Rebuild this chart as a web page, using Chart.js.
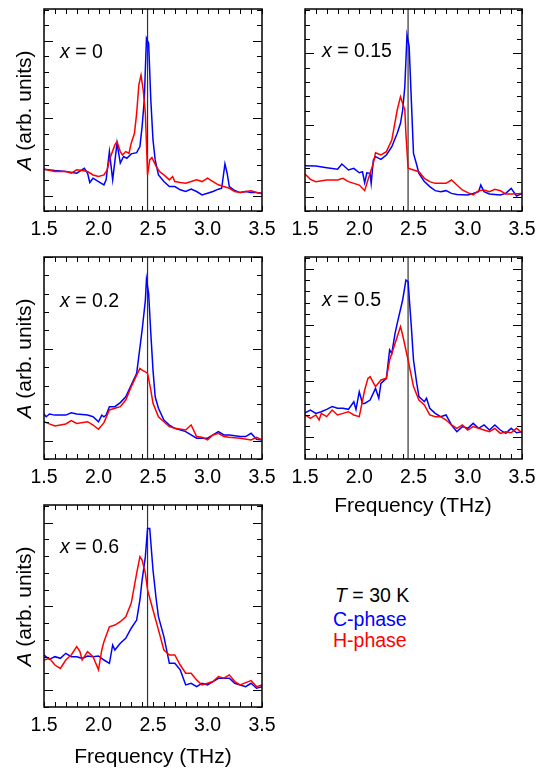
<!DOCTYPE html>
<html><head><meta charset="utf-8">
<script src="https://cdn.jsdelivr.net/npm/chart.js@4.4.1/dist/chart.umd.min.js"></script>
<style>
html,body{margin:0;padding:0;background:#fff;}
body{width:544px;height:770px;position:relative;overflow:hidden;font-family:"Liberation Sans",Arial,Helvetica,sans-serif;color:#000;}
canvas{position:absolute;}
.lbl{position:absolute;font-size:19.5px;line-height:1;white-space:nowrap;}
.yt{position:absolute;font-size:21px;line-height:21px;height:21px;width:180px;text-align:center;white-space:nowrap;transform:rotate(-90deg);transform-origin:50% 50%;}
.xt{position:absolute;font-size:21px;line-height:1;width:220px;text-align:center;white-space:nowrap;}
</style>
</head><body>

<canvas id="p1" width="278" height="252" style="left:14px;top:-1px"></canvas>
<canvas id="p2" width="277" height="252" style="left:275px;top:-1px"></canvas>
<canvas id="p3" width="278" height="252" style="left:14px;top:247px"></canvas>
<canvas id="p4" width="277" height="252" style="left:275px;top:247px"></canvas>
<canvas id="p5" width="278" height="252" style="left:14px;top:495px"></canvas>

<div class="lbl" style="left:60px;top:41.5px"><i>x</i> = 0</div>
<div class="lbl" style="left:322px;top:40.5px"><i>x</i> = 0.15</div>
<div class="lbl" style="left:60px;top:290.5px"><i>x</i> = 0.2</div>
<div class="lbl" style="left:322px;top:289.5px"><i>x</i> = 0.5</div>
<div class="lbl" style="left:60px;top:536.5px"><i>x</i> = 0.6</div>

<div class="yt" style="left:-67px;top:99.5px"><i>A</i> (arb. units)</div>
<div class="yt" style="left:-67px;top:347.5px"><i>A</i> (arb. units)</div>
<div class="yt" style="left:-67px;top:595.5px"><i>A</i> (arb. units)</div>

<div class="xt" style="left:303px;top:494px">Frequency (THz)</div>
<div class="xt" style="left:43px;top:745px">Frequency (THz)</div>

<div class="lbl" style="left:335px;top:585.5px"><i>T</i> = 30 K</div>
<div class="lbl" style="left:333px;top:609.5px;color:#0000ff">C-phase</div>
<div class="lbl" style="left:333px;top:630.5px;color:#ff0000">H-phase</div>

<script>
// ---- data (frequency in THz, amplitude in arb. units) ----
const markerFreq = 2.45;
const xTickLabels = ['1.5', '2.0', '2.5', '3.0', '3.5'];

// x = 0
const freqX0C = [1.5,1.6,1.7,1.8,1.87,1.9,1.92,1.95,2.0,2.05,2.07,2.1,2.13,2.17,2.2,2.23,2.26,2.3,2.35,2.38,2.4,2.42,2.44,2.46,2.48,2.5,2.52,2.55,2.6,2.65,2.7,2.75,2.8,2.85,2.9,2.95,3.0,3.05,3.1,3.13,3.16,3.18,3.2,3.25,3.3,3.35,3.4,3.45,3.5];
const ampX0C  = [1.70,1.61,1.55,1.44,1.76,1.44,0.84,1.12,0.90,0.69,1.01,2.84,1.01,3.38,2.09,2.52,2.41,2.69,2.77,3.16,4.45,6.17,10.15,9.83,6.17,3.59,2.30,1.33,0.90,0.58,0.58,0.37,0.26,0.41,0.26,0.04,0.15,0.26,0.41,0.47,2.04,1.44,0.58,0.32,0.19,0.26,0.19,0.19,0.15];
const freqX0H = [1.5,1.6,1.7,1.75,1.8,1.85,1.9,1.95,2.0,2.05,2.08,2.1,2.15,2.17,2.2,2.22,2.25,2.28,2.3,2.33,2.35,2.37,2.39,2.41,2.43,2.44,2.45,2.47,2.49,2.5,2.53,2.56,2.6,2.65,2.68,2.7,2.75,2.8,2.85,2.9,2.95,3.0,3.05,3.1,3.15,3.2,3.25,3.3,3.35,3.4,3.45,3.5];
const ampX0H  = [1.70,1.55,1.55,1.44,1.66,1.61,1.55,1.33,1.23,1.33,1.66,2.30,3.27,3.48,2.84,2.62,2.84,2.73,3.38,4.02,5.31,7.14,7.78,6.82,5.31,3.38,1.33,2.30,2.45,2.30,1.87,1.55,1.33,1.01,1.23,0.90,0.84,0.80,0.90,1.01,0.90,1.12,0.90,0.69,0.58,0.47,0.26,0.19,0.26,0.30,0.19,0.11];

// x = 0.15
const freqX15C = [1.5,1.6,1.7,1.8,1.84,1.9,1.95,2.0,2.03,2.05,2.07,2.1,2.11,2.13,2.15,2.2,2.25,2.3,2.35,2.38,2.4,2.42,2.44,2.46,2.48,2.5,2.53,2.55,2.6,2.65,2.7,2.75,2.8,2.85,2.9,3.0,3.05,3.1,3.12,3.15,3.2,3.3,3.35,3.4,3.45,3.5];
const ampX15C  = [2.16,2.14,2.02,1.91,2.28,1.86,1.98,1.67,1.74,0.98,1.67,1.63,0.93,2.56,2.79,2.60,2.91,3.49,4.42,5.12,6.05,7.67,11.28,10.47,6.74,3.02,2.21,1.63,1.05,0.70,0.42,0.35,0.42,0.23,0.16,0.12,0.23,0.35,0.81,0.35,0.19,0.12,0.23,0.58,0.05,0.23];
const freqX15H = [1.5,1.55,1.6,1.7,1.8,1.85,1.9,2.0,2.05,2.08,2.1,2.13,2.15,2.2,2.25,2.3,2.35,2.38,2.4,2.42,2.43,2.45,2.5,2.55,2.6,2.65,2.7,2.75,2.8,2.85,2.9,2.95,3.0,3.05,3.1,3.15,3.2,3.25,3.3,3.35,3.4,3.5];
const ampX15H  = [1.58,1.21,1.05,1.16,1.16,1.28,1.05,0.81,0.42,1.16,1.63,2.33,3.07,2.91,3.14,3.95,6.05,6.98,6.51,6.05,4.42,1.98,1.86,1.74,1.28,1.05,0.93,0.93,0.93,1.16,0.81,0.47,0.28,0.12,0.42,0.47,0.35,0.51,0.42,0.19,0.19,0.23];

// x = 0.2
const freqX2C = [1.5,1.52,1.55,1.6,1.7,1.75,1.8,1.9,1.95,2.0,2.03,2.05,2.07,2.1,2.15,2.2,2.25,2.3,2.35,2.4,2.43,2.44,2.46,2.48,2.5,2.52,2.55,2.6,2.65,2.7,2.8,2.9,2.95,3.0,3.05,3.1,3.15,3.2,3.3,3.35,3.4,3.45,3.5];
const ampX2C  = [1.45,1.30,1.45,1.39,1.39,1.52,1.45,1.39,1.30,1.03,1.39,1.30,1.39,1.85,1.85,2.07,2.39,3.03,3.66,6.01,7.64,8.77,8.01,5.83,3.84,2.39,1.76,1.12,0.85,0.67,0.49,0.13,0.13,0.13,0.31,0.49,0.31,0.31,0.22,0.22,0.40,0.07,0.04];
const freqX2H = [1.5,1.55,1.6,1.7,1.75,1.8,1.9,1.95,2.0,2.05,2.1,2.15,2.2,2.25,2.3,2.35,2.38,2.4,2.43,2.45,2.48,2.5,2.55,2.6,2.65,2.7,2.8,2.85,2.9,2.95,3.0,3.05,3.1,3.15,3.2,3.3,3.4,3.45,3.5];
const ampX2H  = [1.03,0.91,0.80,0.91,1.09,0.94,1.03,0.85,0.62,0.98,1.67,1.76,1.85,2.21,2.93,3.57,3.93,3.84,3.75,3.66,2.75,2.03,1.30,1.03,0.76,0.67,0.58,0.85,0.22,0.18,0.04,0.31,0.40,0.22,0.18,0.13,0.04,0.18,0.04];

// x = 0.5
const freqX5C = [1.5,1.55,1.6,1.65,1.7,1.75,1.8,1.85,1.9,1.95,1.97,2.0,2.03,2.05,2.1,2.15,2.18,2.2,2.25,2.28,2.3,2.33,2.35,2.4,2.43,2.45,2.48,2.5,2.53,2.55,2.6,2.62,2.65,2.7,2.75,2.8,2.85,2.9,2.95,3.0,3.05,3.1,3.15,3.2,3.25,3.3,3.35,3.4,3.45,3.5];
const ampX5C  = [2.19,2.43,2.13,2.28,2.49,2.73,2.58,2.58,2.49,3.17,2.49,4.06,3.02,3.02,3.32,4.36,3.47,4.80,5.25,7.77,7.47,9.26,10.15,12.22,14.00,13.85,9.85,6.88,4.80,3.62,3.17,3.47,2.58,2.13,1.84,1.99,1.10,0.50,0.95,0.80,1.24,0.80,1.10,0.65,1.10,0.65,0.35,0.80,0.41,0.50];
const freqX5H = [1.5,1.55,1.6,1.63,1.65,1.7,1.75,1.8,1.85,1.9,1.95,2.0,2.05,2.08,2.1,2.15,2.2,2.25,2.28,2.3,2.35,2.38,2.4,2.45,2.5,2.55,2.6,2.65,2.7,2.75,2.8,2.85,2.9,2.95,3.0,3.05,3.1,3.15,3.2,3.25,3.3,3.35,3.4,3.45,3.5];
const ampX5H  = [1.99,1.69,1.99,1.54,2.13,1.84,2.43,1.99,2.13,2.28,1.99,1.84,4.21,5.25,5.40,4.51,5.10,5.25,6.88,7.47,8.96,9.85,9.11,6.88,4.51,3.32,2.88,1.99,1.84,1.84,1.54,1.10,0.80,1.10,0.65,0.95,0.80,0.65,0.50,0.80,0.35,0.50,0.41,0.80,0.41];

// x = 0.6
const freqX6C = [1.5,1.55,1.6,1.65,1.7,1.75,1.8,1.85,1.9,1.95,2.0,2.05,2.1,2.13,2.15,2.2,2.25,2.3,2.35,2.38,2.4,2.43,2.45,2.47,2.5,2.53,2.55,2.6,2.65,2.7,2.75,2.8,2.85,2.9,2.95,3.0,3.05,3.1,3.15,3.2,3.25,3.3,3.35,3.4,3.45,3.5];
const ampX6C  = [2.09,1.83,1.99,1.89,2.19,1.99,1.99,1.89,2.03,1.99,2.03,1.79,1.59,2.69,2.39,2.79,3.09,3.69,4.18,5.38,6.57,7.97,9.66,9.66,7.17,5.38,4.38,3.19,1.59,1.59,1.20,0.30,0.40,0.20,0.40,0.30,0.50,0.70,0.70,0.70,0.40,0.30,0.20,0.40,0.10,0.20];
const freqX6H = [1.5,1.55,1.6,1.65,1.7,1.75,1.8,1.83,1.85,1.9,1.95,2.0,2.03,2.05,2.1,2.15,2.2,2.25,2.3,2.35,2.38,2.4,2.43,2.45,2.5,2.55,2.6,2.65,2.7,2.75,2.8,2.85,2.9,2.95,3.0,3.05,3.1,3.15,3.2,3.25,3.3,3.35,3.4,3.45,3.5];
const ampX6H  = [1.79,1.89,1.49,1.29,1.79,2.09,2.59,2.29,1.79,2.29,1.99,1.20,2.39,2.89,3.78,3.88,4.08,4.38,5.18,6.97,7.97,7.77,6.97,5.98,4.78,3.59,2.39,2.09,2.09,1.49,1.00,1.00,0.60,0.30,0.40,0.50,0.80,0.70,0.90,0.50,0.30,0.44,0.56,0.20,0.30];

// ---- drawing ----
const FONT = '"Liberation Sans", Arial, Helvetica, sans-serif';
Chart.defaults.font.family = FONT;
Chart.defaults.color = '#000';

const framePlugin = {
  id: 'frame',
  afterDraw(chart, args, opts) {
    const ctx = chart.ctx, a = chart.chartArea, x = chart.scales.x, y = chart.scales.y;
    ctx.save();
    ctx.strokeStyle = '#000';
    ctx.lineWidth = 1;
    ctx.beginPath();
    x.ticks.forEach(t => {
      const px = Math.round(x.getPixelForValue(t.value)) + 0.5;
      ctx.moveTo(px, a.bottom); ctx.lineTo(px, a.bottom - 5);
      ctx.moveTo(px, a.top); ctx.lineTo(px, a.top + 5);
    });
    for (let v = Math.ceil(y.min); v <= Math.floor(y.max); v++) {
      const py = Math.round(y.getPixelForValue(v)) + 0.5;
      const len = opts.majors.includes(v) ? 9 : 5;
      ctx.moveTo(a.left, py); ctx.lineTo(a.left + len, py);
      ctx.moveTo(a.right, py); ctx.lineTo(a.right - len, py);
    }
    ctx.stroke();
    ctx.lineWidth = 1.5;
    ctx.strokeRect(a.left, a.top, a.right - a.left, a.bottom - a.top);
    ctx.restore();
  }
};

function pts(fs, vs) { return fs.map((f, i) => ({x: f, y: vs[i]})); }

function panel(id, fC, aC, fH, aH, yMin, yMax, majors) {
  new Chart(document.getElementById(id), {
    type: 'line',
    data: {
      datasets: [
        {label: 'H-phase', data: pts(fH, aH), borderColor: '#ff0000', borderWidth: 1.5, pointRadius: 0, tension: 0, order: 1},
        {label: 'C-phase', data: pts(fC, aC), borderColor: '#0000ff', borderWidth: 1.5, pointRadius: 0, tension: 0, order: 2},
        {label: 'marker', data: [{x: markerFreq, y: yMin}, {x: markerFreq, y: yMax}], borderColor: '#333333', borderWidth: 1.2, pointRadius: 0, order: 3}
      ]
    },
    options: {
      responsive: false, animation: false, devicePixelRatio: 1,
      layout: {padding: {left: 30, right: 30, top: 10, bottom: 0}},
      plugins: {legend: {display: false}, tooltip: {enabled: false}, frame: {majors: majors}},
      scales: {
        x: {
          type: 'linear', min: 1.5, max: 3.5,
          ticks: {
            stepSize: 0.1, autoSkip: false, maxRotation: 0, padding: 7,
            font: {family: FONT, size: 19.5}, color: '#000',
            callback: v => { const s = (Math.round(v * 10) / 10).toFixed(1); return xTickLabels.includes(s) ? s : ''; }
          },
          grid: {display: false, drawTicks: false},
          border: {display: false},
          afterFit: s => { s.height = 40; }
        },
        y: {type: 'linear', min: yMin, max: yMax, display: false}
      }
    },
    plugins: [framePlugin]
  });
}

panel('p1', freqX0C, ampX0C, freqX0H, ampX0H, -1, 12.05, [0, 5, 10]);
panel('p2', freqX15C, ampX15C, freqX15H, ampX15H, -1, 13.1, [0, 5, 10]);
panel('p3', freqX2C, ampX2C, freqX2H, ampX2H, -1, 10, [0, 5, 10]);
panel('p4', freqX5C, ampX5C, freqX5H, ampX5H, -1.93, 16.05, [0, 5, 10, 15]);
panel('p5', freqX6C, ampX6C, freqX6H, ampX6H, -1.02, 11.06, [0, 5, 10]);
</script>
</body></html>
